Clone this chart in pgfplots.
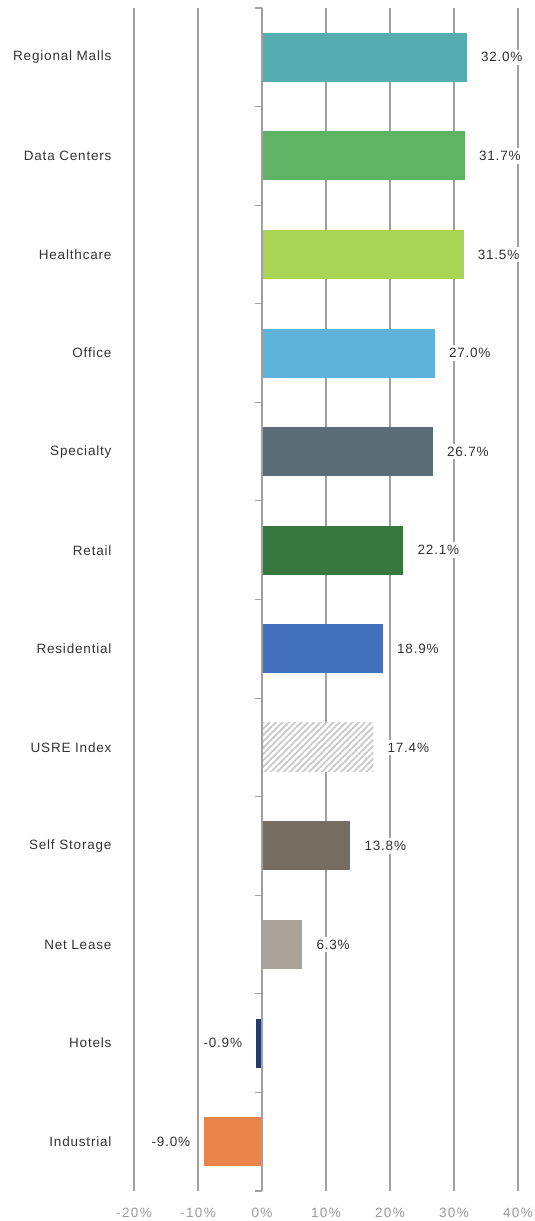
\documentclass[border=0pt]{standalone}
\usepackage{pgfplots}
\pgfplotsset{compat=1.18}
\usepackage{fontspec}
\setmainfont{Liberation Sans}[LetterSpace=6]
\newfontfamily\tickfont{Liberation Sans}[LetterSpace=10]
\usetikzlibrary{patterns.meta}
\definecolor{cRM}{HTML}{56ADAF}
\definecolor{cDC}{HTML}{5FB365}
\definecolor{cHC}{HTML}{A9D454}
\definecolor{cOF}{HTML}{5EB3DC}
\definecolor{cSP}{HTML}{5A6D76}
\definecolor{cRT}{HTML}{38773D}
\definecolor{cRS}{HTML}{4270BC}
\definecolor{cHT}{HTML}{CACACA}
\definecolor{cSS}{HTML}{766D62}
\definecolor{cNL}{HTML}{ABA39A}
\definecolor{cHO}{HTML}{253C6A}
\definecolor{cIN}{HTML}{EB844A}
\definecolor{txt}{HTML}{333333}
\definecolor{tickgray}{HTML}{999999}
\definecolor{gridgray}{HTML}{A0A0A0}
\pgfplotsset{
  lab/.style={nodes near coords, point meta=explicit symbolic,
    every node near coord/.append style={font=\fontsize{13.5}{16}\selectfont, text=txt, fill=white, inner sep=3pt}},
  pos/.style={lab, every node near coord/.append style={anchor=west, xshift=11pt}},
  neg/.style={lab, every node near coord/.append style={anchor=east, xshift=-11pt}},
}
\begin{document}
\begin{tikzpicture}
\begin{axis}[
  name=ax, scale only axis, width=384pt, height=1183pt,
  xmin=-20, xmax=40, ymin=-0.5, ymax=11.5,
  xtick={-20,-10,...,40},
  xticklabels={-20\%,-10\%,0\%,10\%,20\%,30\%,40\%},
  xticklabel style={font=\tickfont\fontsize{13.5}{16}\selectfont, text=tickgray, yshift=-14pt},
  ytick={0,...,11},
  yticklabels={Industrial,Hotels,Net Lease,Self Storage,USRE Index,Residential,Retail,Specialty,Office,Healthcare,Data Centers,Regional Malls},
  yticklabel style={font=\fontsize{13.5}{16}\selectfont, text=txt, xshift=-19pt},
  major tick length=0pt,
  axis line style={draw=none},
  xmajorgrids, grid style={gridgray, line width=1.1pt},
  clip=false,
  xbar, bar width=49pt, bar shift=0pt,
]
\addplot[fill=cRM, draw=none, pos] coordinates {(32.0,11) [32.0\%]};
\addplot[fill=cDC, draw=none, pos] coordinates {(31.7,10) [31.7\%]};
\addplot[fill=cHC, draw=none, pos] coordinates {(31.5,9) [31.5\%]};
\addplot[fill=cOF, draw=none, pos] coordinates {(27.0,8) [27.0\%]};
\addplot[fill=cSP, draw=none, pos] coordinates {(26.7,7) [26.7\%]};
\addplot[fill=cRT, draw=none, pos] coordinates {(22.1,6) [22.1\%]};
\addplot[fill=cRS, draw=none, pos] coordinates {(18.9,5) [18.9\%]};
\addplot[preaction={fill=white}, pattern={Lines[angle=45,distance=4.5pt,line width=1.8pt]}, pattern color=cHT, draw=none, pos] coordinates {(17.4,4) [17.4\%]};
\addplot[fill=cSS, draw=none, pos] coordinates {(13.8,3) [13.8\%]};
\addplot[fill=cNL, draw=none, pos] coordinates {(6.3,2) [6.3\%]};
\addplot[fill=cHO, draw=none, neg] coordinates {(-0.9,1) [-0.9\%]};
\addplot[fill=cIN, draw=none, neg] coordinates {(-9.0,0) [-9.0\%]};
\draw[gridgray, line width=1.1pt] (axis cs:0,-0.5) -- (axis cs:0,11.5);
\pgfplotsinvokeforeach{-0.5,0.5,1.5,2.5,3.5,4.5,5.5,6.5,7.5,8.5,9.5,10.5,11.5}{
  \draw[gridgray, line width=1.1pt] (axis cs:0,#1) -- ([xshift=-7pt]axis cs:0,#1);
}
\end{axis}
\pgfresetboundingbox
\path ([shift={(-134pt,-30pt)}]ax.south west) rectangle ([shift={(401pt,1191pt)}]ax.south west);
\end{tikzpicture}
\end{document}
